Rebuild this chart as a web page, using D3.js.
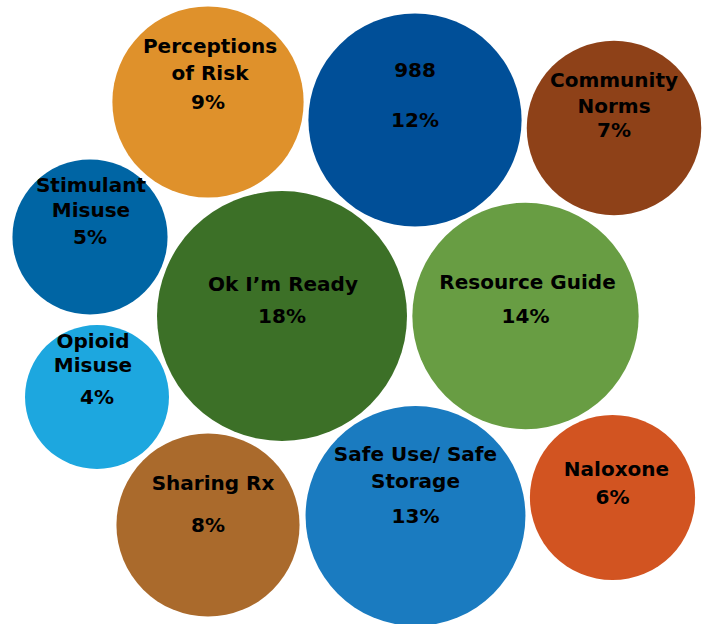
<!DOCTYPE html>
<html>
<head>
<meta charset="utf-8">
<script src="https://cdn.jsdelivr.net/npm/d3@7"></script>
<style>
  html, body { margin: 0; padding: 0; background: #fff; }
  #chart svg { display: block; }
  .bubble-label { font-family: "DejaVu Sans", sans-serif; font-weight: bold; fill: #000; }
</style>
</head>
<body>
<div id="chart"></div>
<script>
// --- data ---
const topics = [
  "Perceptions of Risk", "988", "Community Norms", "Stimulant Misuse",
  "Ok I’m Ready", "Resource Guide", "Opioid Misuse", "Sharing Rx",
  "Safe Use/ Safe Storage", "Naloxone"
];
const shares = [9, 12, 7, 5, 18, 14, 4, 8, 13, 6];
const nameLines = [
  ["Perceptions", "of Risk"], ["988"], ["Community", "Norms"], ["Stimulant", "Misuse"],
  ["Ok I’m Ready"], ["Resource Guide"], ["Opioid", "Misuse"], ["Sharing Rx"],
  ["Safe Use/ Safe", "Storage"], ["Naloxone"]
];

// --- layout (bubble centres on a 710 x 624 board) ---
const layoutX = [208, 415, 614, 90, 282, 525.5, 97, 208, 415.5, 612.5];
const layoutY = [102, 120, 128, 237, 316, 316, 397, 525, 516, 497.5];
// baseline offsets from the centre: name lines, then the percent line
const nameDy = [[-49, -22], [-43], [-41, -15], [-45, -20], [-25], [-27], [-49, -25], [-35], [-55, -28], [-21.5]];
const pctDy = [7, 7, 9, 7, 7, 7, 7, 7, 7, 6];
const nameDx = [2, 0, 0, 1, 1, 2, -4, 5, 0, 4];
const colors = [
  "#DF912B", "#004F98", "#8E4118", "#0065A4", "#3C7027",
  "#689D43", "#1DA7DF", "#AA6A2C", "#1A7BC0", "#D25421"
];

const width = 710, height = 624;

const svg = d3.select("#chart")
  .append("svg")
  .attr("width", width)
  .attr("height", height);

const x = d3.scaleLinear().domain([0, 710]).range([0, width]);
const y = d3.scaleLinear().domain([0, 624]).range([0, height]);
const r = d3.scaleSqrt().domain([0, 18]).range([24.7, 125]);

const data = topics.map((t, i) => ({
  topic: t,
  share: shares[i],
  lines: nameLines[i],
  cx: layoutX[i],
  cy: layoutY[i],
  i: i
}));

const g = svg.selectAll("g.bubble")
  .data(data)
  .join("g")
  .attr("class", "bubble")
  .attr("transform", d => `translate(${x(d.cx)},${y(d.cy)})`);

g.append("circle")
  .attr("r", d => r(d.share))
  .attr("fill", d => colors[d.i]);

g.each(function (d) {
  const node = d3.select(this);
  d.lines.forEach((line, k) => {
    node.append("text")
      .attr("class", "bubble-label")
      .attr("x", nameDx[d.i])
      .attr("y", nameDy[d.i][k])
      .attr("text-anchor", "middle")
      .attr("font-size", 20)
      .text(line);
  });
  node.append("text")
    .attr("class", "bubble-label")
    .attr("y", pctDy[d.i])
    .attr("text-anchor", "middle")
    .attr("font-size", 20)
    .text(`${d.share}%`);
});
</script>
</body>
</html>
